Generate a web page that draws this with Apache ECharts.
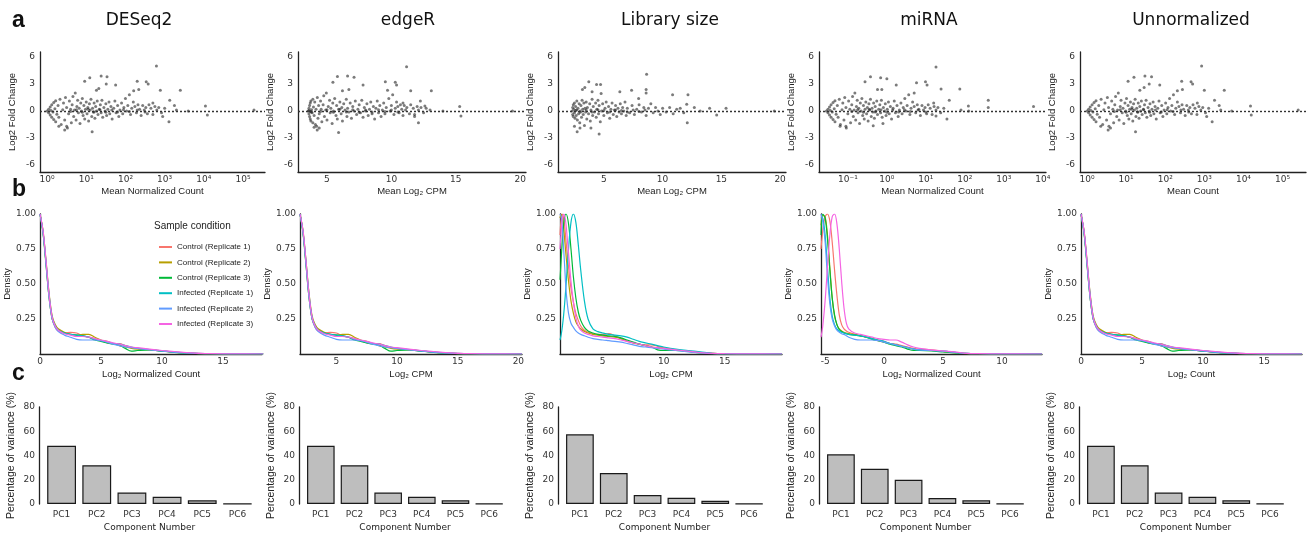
<!DOCTYPE html>
<html><head><meta charset="utf-8">
<script src="https://cdn.jsdelivr.net/npm/echarts@6/dist/echarts.min.js"></script>
<style>html,body{margin:0;padding:0;background:#fff}#c{width:1308px;height:536px}</style>
</head><body><div id="c"></div>
<script>
// ---------------- DATA ----------------
const methods = ['DESeq2', 'edgeR', 'Library size', 'miRNA', 'Unnormalized'];
const conditions = ['Control (Replicate 1)', 'Control (Replicate 2)', 'Control (Replicate 3)',
  'Infected (Replicate 1)', 'Infected (Replicate 2)', 'Infected (Replicate 3)'];
const conditionColors = ['#F8766D', '#B79F00', '#00BA38', '#00BFC4', '#619CFF', '#F564E3'];
const maXNames = ['Mean Normalized Count', 'Mean Log₂ CPM', 'Mean Log₂ CPM', 'Mean Normalized Count', 'Mean Count'];
const densXNames = ['Log₂ Normalized Count', 'Log₂ CPM', 'Log₂ CPM', 'Log₂ Normalized Count', 'Log₂ Count'];
const maYName = 'Log2 Fold Change';
const pcCategories = ['PC1', 'PC2', 'PC3', 'PC4', 'PC5', 'PC6'];
const maYTicks = [-6, -3, 0, 3, 6];
const densYTicks = [0.25, 0.5, 0.75, 1.0];
const maXTicksDESeq2 = [0, 1, 2, 3, 4, 5];        // log10 exponents
const maXTicksEdgeR = [5, 10, 15, 20];
const maXTicksLib = [5, 10, 15, 20];
const maXTicksMiRNA = [-1, 0, 1, 2, 3, 4];        // log10 exponents
const maXTicksUnnorm = [0, 1, 2, 3, 4, 5];        // log10 exponents
const densXTicksDESeq2 = [0, 5, 10, 15];
const densXTicksEdgeR = [5, 10, 15, 20];
const densXTicksLib = [5, 10, 15];
const densXTicksMiRNA = [-5, 0, 5, 10];
const densXTicksUnnorm = [0, 5, 10, 15];

// PCA: percentage of variance
const pcaDESeq2 = [48, 32, 9.5, 6, 3, 0.3];
const pcaEdgeR = [48, 32, 9.5, 6, 3, 0.3];
const pcaLib = [57.5, 25.6, 7.4, 5.2, 2.6, 0.3];
const pcaMiRNA = [41, 29, 20, 5, 3, 0.3];
const pcaUnnorm = [48, 32, 9.5, 6, 3, 0.3];

// MA plots: [mean (log10 count, or log2 CPM), log2 fold change]
const maDESeq2 = [
[0.0,0.0],[0.04,0.2],[0.04,-0.2],[0.08,0.45],[0.08,-0.45],[0.12,0.7],[0.12,-0.7],[0.17,0.95],[0.17,-0.95],[0.22,1.15],[0.22,-1.2],[0.1,0.05],[0.15,-0.1],[0.2,0.25],[0.25,-0.35],[0.28,0.6],[0.3,-0.7],[0.33,1.3],[0.36,-1.5],[0.4,0.15],[0.42,0.9],[0.45,-1.0],[0.47,1.5],[0.5,-1.7],[0.5,0.4],
[0.55,-0.3],[0.57,1.1],[0.6,0.2],[0.62,-1.3],[0.64,0.7],[0.66,1.6],[0.68,-0.6],[0.7,0.1],[0.72,2.0],[0.74,-1.0],[0.76,0.5],[0.78,1.2],[0.8,-0.2],[0.82,0.3],[0.84,-1.4],[0.86,0.9],[0.88,0.0],[0.9,1.4],[0.92,-0.5],[0.94,0.6],[0.96,-0.9],[0.98,0.2],[1.0,1.0],[1.02,-0.3],[1.04,0.4],[1.06,-1.1],[1.08,0.8],[1.1,0.1],[1.12,1.3],[1.14,-0.6],[1.16,0.3],[1.18,-0.1],[1.2,0.9],[1.22,-0.8],[1.24,0.5],[1.26,0.0],[1.28,1.1],[1.3,-0.4],[1.33,0.2],[1.36,0.7],[1.38,-0.2],[1.4,1.2],[1.42,-0.7],[1.45,0.4],[1.48,0.0],[1.5,0.8],[1.52,-0.5],[1.55,0.2],[1.58,1.0],[1.6,-0.3],[1.63,0.5],[1.66,-0.9],[1.7,0.3],[1.73,1.1],[1.76,-0.2],[1.8,0.6],[1.83,-0.6],[1.86,0.1],[1.9,0.9],[1.93,-0.3],[1.96,0.4],[2.0,1.4],[2.03,0.0],[2.06,0.6],[2.1,1.8],[2.13,-0.4],[2.16,0.3],[2.2,1.0],[2.24,0.5],[2.28,-0.2],[2.32,0.7],[2.36,0.2],[2.4,-0.5],[2.44,0.6],[2.48,0.1],[2.52,0.4],[2.56,-0.3],[2.6,0.7],[2.65,0.3],[2.7,-0.4],[2.75,0.5],[2.8,0.1],[2.85,0.4],[2.92,-0.2],[3.0,0.3],
[0.6,-0.05],[0.75,0.15],[0.9,-0.15],[1.05,0.2],[1.2,-0.1],[1.35,0.15],[1.5,-0.15],[1.65,0.1],[1.8,-0.1],[1.95,0.15],[2.1,-0.05],[2.3,0.1],[2.5,-0.1],
[2.79,5.0],[1.38,3.9],[1.53,3.8],[1.09,3.7],[0.96,3.3],[2.3,3.3],[2.53,3.25],[2.58,3.0],[1.75,2.9],[1.51,3.0],[1.26,2.3],[1.32,2.5],[2.34,2.4],[2.21,2.25],[2.89,2.3],[3.4,2.3],[3.13,1.2],[3.25,0.6],[3.11,-1.2],[1.15,-2.3],[0.45,-2.1],[0.52,-1.9],[4.04,0.55],[4.09,-0.45],[5.28,0.1],[3.3,0.1],[3.6,0.0],[2.95,-0.6],[2.7,0.9],[0.3,-1.7]
];
const maEdgeR = [
[3.55,0.0],[3.6,0.3],[3.6,-0.3],[3.65,0.6],[3.65,-0.6],[3.7,0.9],[3.7,-0.9],[3.75,1.1],[3.75,-1.1],[3.8,0.15],[3.85,-0.2],[3.9,1.3],[3.9,-1.3],[3.95,0.45],[4.0,-0.5],[4.05,1.0],[4.1,-1.5],[4.15,0.2],[4.2,-1.7],[4.25,1.5],[4.3,-0.8],[4.35,0.6],[3.6,0.05],[3.7,-0.05],[3.8,-0.1],
[4.4,-0.3],[4.5,1.1],[4.55,0.2],[4.6,-1.2],[4.7,0.7],[4.75,1.7],[4.8,-0.6],[4.9,0.1],[4.95,2.0],[5.0,-1.0],[5.1,0.5],[5.2,1.2],[5.25,-0.2],[5.3,0.3],[5.4,-1.4],[5.45,0.9],[5.5,0.0],[5.6,1.4],[5.7,-0.5],[5.75,0.6],[5.8,-0.9],[5.9,0.2],[6.0,1.0],[6.1,-0.3],[6.15,0.4],[6.2,-1.1],[6.3,0.8],[6.4,0.1],[6.5,1.3],[6.55,-0.6],[6.6,0.3],[6.7,-0.1],[6.8,0.9],[6.9,-0.8],[7.0,0.5],[7.1,0.0],[7.2,1.1],[7.3,-0.4],[7.4,0.2],[7.5,0.7],[7.6,-0.2],[7.7,1.2],[7.8,-0.7],[7.9,0.4],[8.0,0.0],[8.1,0.8],[8.2,-0.5],[8.3,0.2],[8.4,1.0],[8.5,-0.3],[8.6,0.5],[8.7,-0.9],[8.8,0.3],[8.9,1.1],[9.0,-0.2],[9.1,0.6],[9.2,-0.6],[9.3,0.1],[9.4,0.9],[9.5,-0.3],[9.6,0.4],[9.8,1.4],[9.9,0.0],[10.0,0.6],[10.1,1.8],[10.2,-0.4],[10.3,0.3],[10.4,1.0],[10.5,0.5],[10.6,-0.2],[10.7,0.7],[10.8,0.2],[10.9,-0.5],[11.0,0.6],[11.1,0.1],[11.2,0.4],[11.4,-0.3],[11.5,0.7],[11.7,0.3],[11.8,-0.4],[12.0,0.5],[12.1,0.1],[12.3,0.4],[12.5,-0.2],[12.7,0.3],
[4.5,-0.05],[5.0,0.15],[5.5,-0.15],[6.0,0.2],[6.5,-0.1],[7.0,0.15],[7.5,-0.15],[8.0,0.1],[8.5,-0.1],[9.0,0.15],[9.5,-0.05],[10.0,0.1],[10.5,-0.1],
[11.18,4.93],[5.81,3.85],[6.6,3.9],[7.1,3.75],[5.46,3.2],[9.53,3.25],[10.3,3.2],[10.4,2.9],[7.8,2.9],[6.7,2.4],[6.2,2.25],[9.7,2.3],[11.5,2.25],[13.1,2.25],[12.25,1.1],[12.6,0.55],[12.1,-1.3],[5.9,-2.4],[4.24,-2.1],[4.4,-1.9],[15.3,0.5],[15.4,-0.55],[19.4,0.0],[13.0,0.1],[14.0,0.0],[11.8,-0.6],[10.9,0.9],[4.0,-1.8]
];
const maLib = [
[2.3,0.0],[2.35,0.4],[2.35,-0.4],[2.4,0.7],[2.4,-0.6],[2.45,0.2],[2.5,-0.2],[2.5,0.9],[2.55,-0.8],[2.6,0.5],[2.65,-0.5],[2.7,0.1],[2.7,1.1],[2.75,-1.0],[2.8,0.3],[2.85,-0.3],[2.9,0.8],[2.95,-1.3],[3.0,0.0],[3.05,0.6],[3.1,-0.7],[3.15,1.2],[3.2,0.2],[3.25,-0.4],[3.3,0.9],[3.35,-1.6],[3.4,0.3],[3.45,-0.1],[3.5,1.0],[3.55,-0.9],
[3.6,0.4],[3.7,-0.3],[3.8,0.8],[3.85,-1.1],[3.9,0.1],[4.0,1.3],[4.05,-0.5],[4.1,0.5],[4.2,-0.1],[4.3,0.9],[4.35,-0.7],[4.4,0.2],[4.5,1.2],[4.55,-0.3],[4.6,0.6],[4.7,-1.2],[4.8,0.0],[4.9,0.8],[5.0,-0.5],[5.1,0.3],[5.2,1.0],[5.3,-0.2],[5.4,0.5],[5.5,-0.8],[5.6,0.2],[5.7,0.9],[5.8,-0.4],[5.9,0.1],[6.0,0.6],[6.1,-0.6],[6.2,0.3],[6.3,-0.1],[6.4,0.8],[6.5,-0.3],[6.6,0.4],[6.7,0.0],[6.8,1.0],[6.9,-0.5],[7.0,0.3],[7.2,-0.2],[7.4,0.6],[7.6,-0.4],[7.8,0.2],[8.0,0.7],[8.2,-0.1],[8.4,0.4],[8.6,-0.5],[8.8,0.3],[9.0,0.8],[9.2,-0.2],[9.4,0.4],[9.6,0.0],[9.8,-0.4],[10.0,0.3],[10.3,-0.1],[10.6,0.4],[10.9,-0.3],[11.2,0.2],[11.5,0.3],[11.8,-0.2],
[2.6,0.05],[3.0,-0.15],[3.5,0.1],[4.0,-0.1],[4.5,0.15],[5.0,0.05],[5.5,-0.1],[6.0,0.1],[6.5,0.05],[7.0,-0.1],[7.5,0.1],[8.0,-0.05],[8.5,0.1],
[8.64,4.1],[3.72,3.25],[3.38,2.6],[3.18,2.4],[4.38,2.95],[4.72,2.95],[4.0,2.15],[4.77,1.95],[6.36,2.15],[7.36,2.3],[8.6,2.4],[8.6,2.0],[7.96,1.4],[10.85,1.8],[12.16,1.8],[12.05,0.75],[12.7,0.4],[12.1,-1.3],[4.6,-2.55],[2.73,-2.3],[2.97,-1.9],[14.6,-0.45],[15.4,0.3],[14.0,0.3],[19.5,0.0],[13.2,0.0],[2.5,-1.7],[3.9,-1.9]
];
const maMiRNA = [
[-1.55,0.0],[-1.51,0.2],[-1.51,-0.2],[-1.47,0.45],[-1.47,-0.45],[-1.43,0.7],[-1.43,-0.7],[-1.38,0.95],[-1.38,-0.95],[-1.33,1.15],[-1.33,-1.2],[-1.45,0.05],[-1.4,-0.1],[-1.35,0.25],[-1.3,-0.35],[-1.27,0.6],[-1.25,-0.7],[-1.22,1.3],[-1.19,-1.5],[-1.15,0.15],[-1.13,0.9],[-1.1,-1.0],[-1.08,1.5],[-1.05,-1.7],[-1.05,0.4],
[-1.0,-0.3],[-0.98,1.1],[-0.95,0.2],[-0.93,-1.3],[-0.9,0.7],[-0.88,1.6],[-0.86,-0.6],[-0.84,0.1],[-0.82,2.0],[-0.8,-1.0],[-0.78,0.5],[-0.76,1.2],[-0.74,-0.2],[-0.72,0.3],[-0.7,-1.4],[-0.68,0.9],[-0.66,0.0],[-0.64,1.4],[-0.62,-0.5],[-0.6,0.6],[-0.58,-0.9],[-0.56,0.2],[-0.54,1.0],[-0.52,-0.3],[-0.5,0.4],[-0.48,-1.1],[-0.46,0.8],[-0.44,0.1],[-0.42,1.3],[-0.4,-0.6],[-0.38,0.3],[-0.36,-0.1],[-0.34,0.9],[-0.32,-0.8],[-0.3,0.5],[-0.28,0.0],[-0.26,1.1],[-0.24,-0.4],[-0.21,0.2],[-0.18,0.7],[-0.16,-0.2],[-0.14,1.2],[-0.12,-0.7],[-0.09,0.4],[-0.06,0.0],[-0.04,0.8],[-0.02,-0.5],[0.01,0.2],[0.04,1.0],[0.06,-0.3],[0.09,0.5],[0.12,-0.9],[0.16,0.3],[0.19,1.1],[0.22,-0.2],[0.26,0.6],[0.29,-0.6],[0.32,0.1],[0.36,0.9],[0.39,-0.3],[0.42,0.4],[0.46,1.4],[0.49,0.0],[0.52,0.6],[0.56,1.8],[0.59,-0.4],[0.62,0.3],[0.66,1.0],[0.7,0.5],[0.74,-0.2],[0.78,0.7],[0.82,0.2],[0.86,-0.5],[0.9,0.6],[0.94,0.1],[0.98,0.4],[1.02,-0.3],[1.06,0.7],[1.11,0.3],[1.16,-0.4],[1.21,0.5],[1.26,0.1],[1.31,0.4],[1.38,-0.2],[1.46,0.3],
[-0.9,-0.05],[-0.75,0.15],[-0.6,-0.15],[-0.45,0.2],[-0.3,-0.1],[-0.15,0.15],[0.0,-0.15],[0.15,0.1],[0.3,-0.1],[0.45,0.15],[0.6,-0.05],[0.8,0.1],[1.0,-0.1],
[1.26,4.9],[-0.42,3.8],[-0.16,3.7],[0.0,3.6],[-0.56,3.25],[0.76,3.15],[0.99,3.25],[1.03,2.9],[0.24,2.9],[-0.24,2.4],[-0.13,2.4],[1.39,2.45],[1.87,2.45],[0.7,2.0],[1.6,1.2],[2.09,0.55],[2.6,1.2],[2.6,0.4],[3.76,0.5],[1.54,-0.9],[1.26,-0.55],[-0.35,-1.65],[-1.04,-1.9],[-0.1,-1.4],[1.9,0.1],[2.1,0.0],[1.2,0.9],[-1.2,-1.7]
];
const maUnnorm = [
[0.0,0.0],[0.04,0.2],[0.04,-0.2],[0.08,0.45],[0.08,-0.45],[0.13,0.7],[0.13,-0.7],[0.18,0.95],[0.18,-0.95],[0.23,1.15],[0.23,-1.2],[0.1,0.05],[0.15,-0.1],[0.21,0.25],[0.26,-0.35],[0.3,0.6],[0.32,-0.7],[0.36,1.3],[0.4,-1.5],[0.43,0.15],[0.46,0.9],[0.5,-1.0],[0.52,1.5],[0.56,-1.7],[0.55,0.4],
[0.6,-0.3],[0.63,1.1],[0.66,0.2],[0.68,-1.3],[0.71,0.7],[0.73,1.6],[0.76,-0.6],[0.78,0.1],[0.8,2.0],[0.82,-1.0],[0.85,0.5],[0.87,1.2],[0.9,-0.2],[0.92,0.3],[0.94,-1.4],[0.97,0.9],[0.99,0.0],[1.01,1.4],[1.03,-0.5],[1.05,0.6],[1.07,-0.9],[1.09,0.2],[1.11,1.0],[1.13,-0.3],[1.15,0.4],[1.17,-1.1],[1.19,0.8],[1.21,0.1],[1.23,1.3],[1.25,-0.6],[1.27,0.3],[1.29,-0.1],[1.31,0.9],[1.33,-0.8],[1.35,0.5],[1.37,0.0],[1.39,1.1],[1.41,-0.4],[1.44,0.2],[1.47,0.7],[1.49,-0.2],[1.51,1.2],[1.53,-0.7],[1.56,0.4],[1.59,0.0],[1.61,0.8],[1.63,-0.5],[1.66,0.2],[1.69,1.0],[1.71,-0.3],[1.74,0.5],[1.77,-0.9],[1.81,0.3],[1.84,1.1],[1.87,-0.2],[1.91,0.6],[1.94,-0.6],[1.97,0.1],[2.01,0.9],[2.04,-0.3],[2.07,0.4],[2.11,1.4],[2.14,0.0],[2.17,0.6],[2.21,1.8],[2.24,-0.4],[2.27,0.3],[2.31,1.0],[2.35,0.5],[2.39,-0.2],[2.43,0.7],[2.47,0.2],[2.51,-0.5],[2.55,0.6],[2.59,0.1],[2.63,0.4],[2.67,-0.3],[2.71,0.7],[2.76,0.3],[2.81,-0.4],[2.86,0.5],[2.91,0.1],[2.96,0.4],[3.03,-0.2],[3.11,0.3],
[0.7,-0.05],[0.85,0.15],[1.0,-0.15],[1.15,0.2],[1.3,-0.1],[1.45,0.15],[1.6,-0.15],[1.75,0.1],[1.9,-0.1],[2.05,0.15],[2.2,-0.05],[2.4,0.1],[2.6,-0.1],
[2.93,5.0],[1.48,3.9],[1.65,3.8],[1.2,3.75],[1.05,3.3],[2.42,3.3],[2.66,3.25],[2.7,3.0],[1.86,2.9],[1.59,3.0],[1.35,2.3],[1.46,2.6],[2.44,2.4],[2.31,2.25],[3.0,2.3],[3.51,2.3],[3.26,1.2],[3.38,0.6],[3.2,-1.2],[1.24,-2.3],[0.54,-2.1],[0.6,-1.9],[4.18,0.55],[4.2,-0.45],[5.4,0.1],[3.42,0.1],[3.7,0.0],[3.06,-0.6],[2.82,0.9],[0.35,-1.7]
];

// Density curves (scaled so the peak = 1)
const densGridDESeq2 = [0,0.25,0.5,0.75,1,1.25,1.5,2,2.5,3,3.5,4,4.5,5,5.5,6,6.5,7,7.5,8,9,10,11,12,13,14,16,18.3];
const densGridEdgeR = [2,2.25,2.5,2.75,3,3.25,3.5,4,4.5,5,5.5,6,6.5,7,7.5,8,8.5,9,9.5,10,11,12,13,14,15,16,18,20.3];
const densGridUnnorm = [0,0.25,0.5,0.75,1,1.25,1.5,2,2.5,3,3.5,4,4.5,5,5.5,6,6.5,7,7.5,8,9,10,11,12,13,14,16,18.1];
const densCountCurves = [
[1,0.87,0.64,0.40,0.25,0.19,0.165,0.15,0.155,0.15,0.13,0.12,0.11,0.095,0.08,0.075,0.075,0.06,0.045,0.04,0.03,0.022,0.014,0.008,0.004,0.002,0.001,0],
[1,0.88,0.66,0.43,0.27,0.21,0.18,0.155,0.14,0.135,0.14,0.14,0.12,0.10,0.09,0.075,0.06,0.05,0.04,0.035,0.03,0.022,0.013,0.007,0.003,0.002,0.001,0],
[1,0.86,0.63,0.40,0.25,0.2,0.17,0.15,0.14,0.135,0.13,0.12,0.1,0.09,0.08,0.07,0.065,0.04,0.02,0.025,0.03,0.02,0.012,0.006,0.003,0.001,0.001,0],
[1,0.87,0.65,0.42,0.26,0.2,0.17,0.15,0.14,0.135,0.13,0.12,0.105,0.095,0.085,0.075,0.07,0.06,0.05,0.04,0.032,0.022,0.013,0.007,0.003,0.002,0.001,0],
[1,0.87,0.64,0.40,0.25,0.19,0.16,0.135,0.12,0.105,0.10,0.10,0.10,0.095,0.085,0.07,0.06,0.05,0.045,0.04,0.03,0.022,0.014,0.008,0.004,0.002,0.001,0],
[1,0.88,0.66,0.42,0.26,0.2,0.17,0.145,0.135,0.125,0.125,0.12,0.11,0.10,0.09,0.08,0.07,0.06,0.05,0.045,0.035,0.025,0.018,0.01,0.005,0.002,0.001,0]
];
const densGridLib = [1.5,1.6,1.7,1.8,1.9,2.0,2.2,2.4,2.6,2.8,3.0,3.2,3.5,3.8,4.2,4.6,5.0,5.5,6,6.5,7,7.5,8,8.5,9,9.5,10,11,12,13,14,15,17,19.7];
const densLibCurves = [
[0.85,0.97,1.0,0.97,0.9,0.8,0.62,0.47,0.37,0.29,0.24,0.2,0.17,0.155,0.145,0.14,0.14,0.145,0.13,0.11,0.09,0.08,0.07,0.065,0.065,0.055,0.045,0.03,0.02,0.01,0.004,0.002,0.001,0],
[0.97,1.0,0.97,0.9,0.8,0.7,0.52,0.38,0.29,0.23,0.2,0.18,0.16,0.15,0.14,0.135,0.13,0.125,0.12,0.11,0.095,0.08,0.07,0.06,0.05,0.045,0.04,0.03,0.02,0.01,0.004,0.002,0.001,0],
[0.53,0.68,0.82,0.93,0.99,1.0,0.93,0.75,0.55,0.4,0.3,0.24,0.19,0.165,0.15,0.14,0.135,0.13,0.125,0.115,0.1,0.085,0.07,0.06,0.05,0.03,0.025,0.025,0.018,0.008,0.003,0.001,0.001,0],
[0.1,0.14,0.2,0.28,0.38,0.5,0.75,0.94,1.0,0.94,0.78,0.6,0.38,0.25,0.18,0.16,0.15,0.14,0.135,0.13,0.12,0.105,0.09,0.08,0.07,0.06,0.05,0.035,0.025,0.015,0.005,0.002,0.001,0],
[1.0,0.98,0.9,0.75,0.6,0.45,0.29,0.22,0.19,0.165,0.15,0.14,0.13,0.12,0.11,0.105,0.1,0.095,0.09,0.085,0.075,0.065,0.055,0.05,0.045,0.04,0.035,0.025,0.015,0.008,0.003,0.001,0.001,0],
[0.75,0.88,0.97,1.0,0.98,0.92,0.72,0.52,0.37,0.26,0.2,0.17,0.15,0.14,0.13,0.125,0.12,0.115,0.11,0.1,0.09,0.08,0.07,0.06,0.05,0.045,0.04,0.03,0.02,0.01,0.004,0.002,0.001,0]
];
const densGridMiRNA = [-5.35,-5.2,-5.0,-4.8,-4.6,-4.4,-4.2,-4.0,-3.8,-3.6,-3.4,-3.2,-3.0,-2.5,-2,-1.5,-1,-0.5,0,0.5,1,1.5,2,2.5,3,4,5,6,7,8,10,13.4];
const densMiRNACurves = [
[0.75,0.88,0.98,1.0,0.95,0.8,0.6,0.42,0.28,0.21,0.18,0.165,0.155,0.14,0.13,0.12,0.11,0.1,0.09,0.075,0.07,0.06,0.05,0.04,0.035,0.03,0.02,0.012,0.004,0.002,0.001,0],
[0.92,0.99,0.98,0.85,0.62,0.4,0.27,0.21,0.18,0.165,0.155,0.15,0.145,0.14,0.13,0.12,0.11,0.095,0.085,0.075,0.065,0.055,0.045,0.035,0.03,0.025,0.018,0.01,0.003,0.002,0.001,0],
[0.85,1.0,0.97,0.82,0.6,0.4,0.28,0.21,0.175,0.16,0.15,0.145,0.14,0.135,0.13,0.12,0.105,0.095,0.085,0.07,0.06,0.05,0.035,0.025,0.025,0.022,0.015,0.008,0.003,0.002,0.001,0],
[0.98,0.97,0.85,0.62,0.4,0.27,0.21,0.18,0.165,0.155,0.15,0.145,0.14,0.135,0.13,0.12,0.11,0.1,0.09,0.075,0.065,0.055,0.045,0.035,0.03,0.025,0.02,0.012,0.004,0.002,0.001,0],
[1.0,0.95,0.8,0.55,0.36,0.25,0.2,0.17,0.155,0.145,0.14,0.13,0.12,0.105,0.1,0.1,0.1,0.095,0.085,0.075,0.065,0.055,0.045,0.035,0.03,0.025,0.02,0.012,0.004,0.002,0.001,0],
[0.12,0.2,0.38,0.62,0.85,0.98,1.0,0.93,0.75,0.52,0.33,0.22,0.18,0.15,0.14,0.13,0.12,0.11,0.105,0.1,0.1,0.085,0.065,0.05,0.04,0.03,0.022,0.015,0.005,0.002,0.001,0]
];

// ---------------- LAYOUT / STYLE ----------------
const panels = [
  {ma: maDESeq2, maRange: [-0.18, 5.56], maTicks: maXTicksDESeq2, maLog: true,
   dGrid: densGridDESeq2, dCurves: densCountCurves, dRange: [0, 18.2], dTicks: densXTicksDESeq2, pca: pcaDESeq2,
   sL: 40, sW: 225, dL: 40, dW: 222, bA: 39, bL: 44, bW: 211, tX: 139},
  {ma: maEdgeR, maRange: [2.75, 20.45], maTicks: maXTicksEdgeR, maLog: false,
   dGrid: densGridEdgeR, dCurves: densCountCurves, dRange: [2.0, 20.3], dTicks: densXTicksEdgeR, pca: pcaEdgeR,
   sL: 298, sW: 228, dL: 300, dW: 222, bA: 299, bL: 304, bW: 202, tX: 408},
  {ma: maLib, maRange: [1.1, 20.5], maTicks: maXTicksLib, maLog: false,
   dGrid: densGridLib, dCurves: densLibCurves, dRange: [1.5, 19.7], dTicks: densXTicksLib, pca: pcaLib,
   sL: 558, sW: 228, dL: 560, dW: 222, bA: 558, bL: 563, bW: 203, tX: 670},
  {ma: maMiRNA, maRange: [-1.74, 4.08], maTicks: maXTicksMiRNA, maLog: true,
   dGrid: densGridMiRNA, dCurves: densMiRNACurves, dRange: [-5.35, 13.4], dTicks: densXTicksMiRNA, pca: pcaMiRNA,
   sL: 819, sW: 227, dL: 821, dW: 221, bA: 819, bL: 824, bW: 203, tX: 929},
  {ma: maUnnorm, maRange: [-0.18, 5.6], maTicks: maXTicksUnnorm, maLog: true,
   dGrid: densGridUnnorm, dCurves: densCountCurves, dRange: [0, 18.1], dTicks: densXTicksUnnorm, pca: pcaUnnorm,
   sL: 1080, sW: 226, dL: 1081, dW: 221, bA: 1079, bL: 1084, bW: 203, tX: 1191}
];

const SUP = {'-': '⁻', '0': '⁰', '1': '¹', '2': '²', '3': '³', '4': '⁴', '5': '⁵', '6': '⁶'};
const pow10 = v => '10' + String(Math.round(v)).split('').map(c => SUP[c]).join('');
const TICKFONT = {fontFamily: 'DejaVu Sans', fontSize: 9, color: '#333'};
const NAMEFONT = {fontFamily: 'Liberation Sans', fontSize: 9.5, color: '#222'};
const AXLINE = {show: true, onZero: false, lineStyle: {color: '#222', width: 1.3}};

const grids = [], xAxes = [], yAxes = [], series = [];
panels.forEach((p, i) => {
  // Row a: MA plot
  let gi = grids.length;
  grids.push({left: p.sL, top: 52, width: p.sW, height: 120});
  xAxes.push({gridIndex: gi, type: 'value', min: p.maRange[0], max: p.maRange[1],
    name: maXNames[i], nameLocation: 'middle', nameGap: 14, nameTextStyle: NAMEFONT,
    axisLine: AXLINE, axisTick: {show: false}, splitLine: {show: false},
    axisLabel: Object.assign({customValues: p.maTicks, margin: 3,
      formatter: p.maLog ? pow10 : (v => String(v))}, TICKFONT)});
  yAxes.push({gridIndex: gi, type: 'value', min: -6.78, max: 6.56,
    name: maYName, nameLocation: 'middle', nameGap: 23, nameTextStyle: NAMEFONT,
    axisLine: AXLINE, axisTick: {show: false}, splitLine: {show: false},
    axisLabel: Object.assign({customValues: maYTicks, margin: 5}, TICKFONT)});
  series.push({type: 'scatter', xAxisIndex: gi, yAxisIndex: gi, data: p.ma, symbol: 'circle', symbolSize: 3,
    itemStyle: {color: 'rgba(20,20,20,0.7)'}, silent: true,
    markLine: {silent: true, symbol: ['none', 'none'], label: {show: false},
      lineStyle: {type: [2, 2], color: '#333', width: 1.4}, data: [{yAxis: 0}]}});

  // Row b: density
  gi = grids.length;
  grids.push({left: p.dL, top: 214, width: p.dW, height: 140});
  xAxes.push({gridIndex: gi, type: 'value', min: p.dRange[0], max: p.dRange[1],
    name: densXNames[i], nameLocation: 'middle', nameGap: 15, nameTextStyle: NAMEFONT,
    axisLine: AXLINE, axisTick: {show: false}, splitLine: {show: false},
    axisLabel: Object.assign({customValues: p.dTicks, margin: 3}, TICKFONT)});
  yAxes.push({gridIndex: gi, type: 'value', min: 0, max: 1,
    name: 'Density', nameLocation: 'middle', nameGap: 23, nameTextStyle: NAMEFONT,
    axisLine: AXLINE, axisTick: {show: false}, splitLine: {show: false},
    axisLabel: Object.assign({customValues: densYTicks, margin: 4, formatter: v => v.toFixed(2)}, TICKFONT)});
  p.dCurves.forEach((ys, k) => {
    series.push({type: 'line', name: conditions[k], xAxisIndex: gi, yAxisIndex: gi,
      data: p.dGrid.map((x, j) => [x, ys[j]]), showSymbol: false, smooth: 0.35, silent: true,
      lineStyle: {color: conditionColors[k], width: 1.2}, itemStyle: {color: conditionColors[k]}});
  });

  // Row c: PCA variance bars
  gi = grids.length;
  grids.push({left: p.bL, top: 407, width: p.bW, height: 97});
  xAxes.push({gridIndex: gi, type: 'category', data: pcCategories,
    name: 'Component Number', nameLocation: 'middle', nameGap: 19,
    nameTextStyle: {fontFamily: 'DejaVu Sans', fontSize: 9, color: '#222'},
    axisLine: {show: false}, axisTick: {show: false},
    axisLabel: Object.assign({margin: 6}, TICKFONT)});
  yAxes.push({gridIndex: gi, type: 'value', min: 0, max: 80, interval: 20, offset: p.bL - p.bA,
    name: 'Percentage of variance (%)', nameLocation: 'middle', nameGap: 22,
    nameTextStyle: {fontFamily: 'Liberation Sans', fontSize: 10.5, color: '#222'},
    axisLine: AXLINE, axisTick: {show: false}, splitLine: {show: false},
    axisLabel: Object.assign({margin: 4}, TICKFONT)});
  series.push({type: 'bar', xAxisIndex: gi, yAxisIndex: gi, data: p.pca, barWidth: '82%', silent: true,
    itemStyle: {color: '#bebebe', borderColor: '#1a1a1a', borderWidth: 1.2}});
});

const graphics = [];
panels.forEach((p, i) => graphics.push({type: 'text', x: p.tX, y: 21,
  style: {text: methods[i], font: '17px "DejaVu Sans"', fill: '#111', textAlign: 'center', textVerticalAlign: 'middle'}}));
[['a', 9], ['b', 178], ['c', 362]].forEach(([t, y]) => graphics.push({type: 'text', x: 12, y: y,
  style: {text: t, font: 'bold 23px "Liberation Sans"', fill: '#111', textVerticalAlign: 'top'}}));
graphics.push({type: 'text', x: 154, y: 226,
  style: {text: 'Sample condition', font: '10px "Liberation Sans"', fill: '#222', textVerticalAlign: 'middle'}});

const chart = echarts.init(document.getElementById('c'), null, {renderer: 'canvas'});
chart.setOption({
  animation: false,
  backgroundColor: '#fff',
  grid: grids, xAxis: xAxes, yAxis: yAxes, series: series,
  legend: {data: conditions, orient: 'vertical', left: 154, top: 237, icon: 'rect',
    itemWidth: 13, itemHeight: 2, itemGap: 5.4, selectedMode: false,
    textStyle: {fontFamily: 'Liberation Sans', fontSize: 8, color: '#222', lineHeight: 10}},
  graphic: graphics
});
</script>
</body></html>
